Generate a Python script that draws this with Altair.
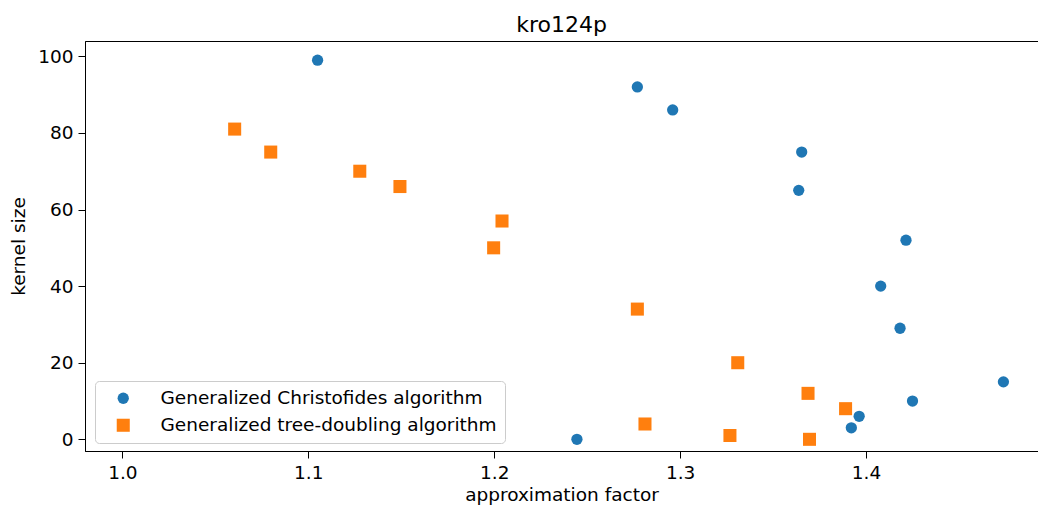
import altair as alt
import pandas as pd

series = ["Generalized Christofides algorithm", "Generalized tree-doubling algorithm"]
colors = ["#1f77b4", "#ff7f0e"]
shapes = ["circle", "square"]
marker_sizes = [127, 170]

christofides_x = [1.105, 1.277, 1.296, 1.3654, 1.3638, 1.4215, 1.4079, 1.4183, 1.4739, 1.425, 1.3963, 1.3921, 1.2445]
christofides_y = [99, 92, 86, 75, 65, 52, 40, 29, 15, 10, 6, 3, 0]
doubling_x = [1.0604, 1.0798, 1.1277, 1.1493, 1.2042, 1.1997, 1.277, 1.331, 1.3688, 1.389, 1.2811, 1.3268, 1.3696]
doubling_y = [81, 75, 70, 66, 57, 50, 34, 20, 12, 8, 4, 1, 0]

x_ticks = [1.0, 1.1, 1.2, 1.3, 1.4]
y_ticks = [0, 20, 40, 60, 80, 100]

rows = []
for i, (xs, ys) in enumerate([(christofides_x, christofides_y), (doubling_x, doubling_y)]):
    for xv, yv in zip(xs, ys):
        rows.append({"factor": xv, "kernel": yv, "algorithm": series[i], "order": i})
df = pd.DataFrame(rows)

FONT = "DejaVu Sans"

legend = alt.Legend(
    orient="none", legendX=10, legendY=340, title=None,
    labelFontSize=18.5, labelFont=FONT, labelColor="black", labelLimit=0,
    strokeColor="#cccccc", fillColor="rgba(255,255,255,0.8)",
    padding=8, cornerRadius=4, rowPadding=8, symbolOffset=11,
    labelOffset=28, symbolStrokeWidth=0, symbolOpacity=1,
)

chart = alt.Chart(df).mark_point(filled=True, opacity=1, strokeWidth=0).encode(
    x=alt.X("factor:Q",
            scale=alt.Scale(domain=[0.9799, 1.4925], nice=False, zero=False),
            axis=alt.Axis(values=x_ticks, format=".1f", title="approximation factor",
                          titlePadding=4)),
    y=alt.Y("kernel:Q",
            scale=alt.Scale(domain=[-3.05, 104.0], nice=False, zero=False),
            axis=alt.Axis(values=y_ticks, format="d", title="kernel size",
                          titlePadding=9)),
    color=alt.Color("algorithm:N", scale=alt.Scale(domain=series, range=colors), legend=legend),
    shape=alt.Shape("algorithm:N", scale=alt.Scale(domain=series, range=shapes), legend=legend),
    size=alt.Size("algorithm:N", scale=alt.Scale(domain=series, range=marker_sizes), legend=legend),
    order=alt.Order("order:Q"),
).properties(
    width=953, height=410,
    title=alt.Title("kro124p", fontSize=22, font=FONT, fontWeight="normal",
                    anchor="middle", baseline="alphabetic", offset=11, dy=24, color="black"),
    autosize=alt.AutoSizeParams(type="none"),
    padding={"left": 77, "top": 33, "right": 0, "bottom": 54},
).configure_view(
    stroke="black", strokeWidth=1
).configure_axis(
    grid=False, domainColor="black", tickColor="black", tickSize=7,
    labelPadding=5, labelFontSize=18.5, labelFont=FONT, labelColor="black",
    titleFontSize=18.5, titleFont=FONT, titleFontWeight="normal", titleColor="black",
    domainWidth=1, tickWidth=1,
)

chart.save("out.html", embed_options={"renderer": "svg", "actions": False})
